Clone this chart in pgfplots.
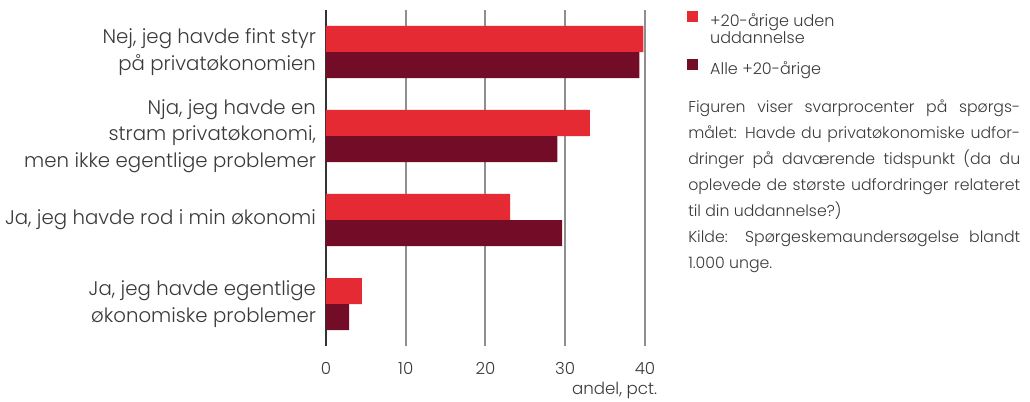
\documentclass[border=0pt]{standalone}
\usepackage{fontspec}
\setmainfont{Poppins Light}
\usepackage{pgfplots}
\pgfplotsset{compat=1.18}
\definecolor{cred}{HTML}{E52A33}
\definecolor{cdark}{HTML}{720C27}
\definecolor{ctext}{HTML}{3A3A3A}
\definecolor{cgrid}{HTML}{8F8F8F}
\pgfplotsset{
  legtop/.style={legend image code/.code={\fill[##1,draw=none] (0pt,5.7pt) rectangle (8.25pt,13.95pt);}},
  legmid/.style={legend image code/.code={\fill[##1,draw=none] (0pt,-0.6pt) rectangle (8.25pt,7.65pt);}},
}
\begin{document}
\begin{tikzpicture}
\path[use as bounding box] (-244.5pt,-42pt) rectangle (528pt,259.5pt);
\begin{axis}[
  at={(0,0)}, anchor=south west,
  scale only axis, width=239.25pt, height=252pt,
  xbar=0pt, bar width=19.5pt,
  xmin=0, xmax=40, ymin=-0.5, ymax=3.5, y dir=reverse,
  axis x line*=bottom, axis y line*=left,
  x axis line style={draw=none},
  y axis line style={black!80, line width=1.5pt, -},
  ytick={0,1,2,3},
  yticklabels={{Nej, jeg havde fint styr\\på privatøkonomien},
               {Nja, jeg havde en\\stram privatøkonomi,\\men ikke egentlige problemer},
               {Ja, jeg havde rod i min økonomi},
               {Ja, jeg havde egentlige\\økonomiske problemer}},
  yticklabel style={align=right, font=\fontsize{14.8}{20}\selectfont, text=ctext, xshift=-4pt},
  xtick={0,10,20,30,40},
  xticklabel style={font=\fontsize{12.5}{15}\selectfont, text=ctext, anchor=base, yshift=-21pt},
  /pgf/number format/assume math mode=true,
  major tick length=0pt,
  tick style={draw=none},
  xmajorgrids, major grid style={cgrid, line width=1.5pt},
  xlabel={andel, pct.},
  xlabel style={at={(axis description cs:1.053,0)}, anchor=base east, yshift=-36pt, font=\fontsize{12.5}{15}\selectfont, text=ctext},
  legend style={at={(axis description cs:1.119,1.006)}, anchor=north west, draw=none, fill=none,
    font=\fontsize{12}{13}\selectfont, text=ctext, row sep=7.5pt, column sep=7pt,
    cells={anchor=west, align=left}},
  clip=false,
]
\addplot[fill=cred, draw=none, bar shift=9.75pt, legtop]
  coordinates {(39.8,0) (33.1,1) (23.1,2) (4.5,3)};
\addplot[fill=cdark, draw=none, bar shift=-9.75pt, legmid]
  coordinates {(39.3,0) (29.0,1) (29.6,2) (2.9,3)};
\legend{{+20-årige uden\\uddannelse}, {Alle +20-årige}}
\end{axis}
\node[anchor=north west, inner sep=0pt, text width=249pt, align=justify, text=ctext,
  font=\fontsize{11.8}{19.5}\selectfont] at (271.5pt,185pt)
  {Figuren viser svarprocenter på spørgs-\linebreak målet: Havde du privatøkonomiske udfor-\linebreak dringer på daværende tidspunkt (da du\linebreak oplevede de største udfordringer relateret\linebreak til din uddannelse?)\par Kilde: Spørgeskemaundersøgelse blandt\linebreak 1.000 unge.};
\end{tikzpicture}
\end{document}
